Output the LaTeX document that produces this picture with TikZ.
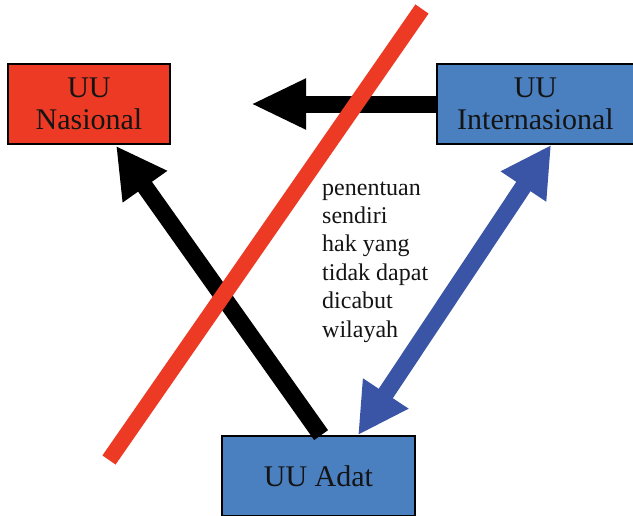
\documentclass[tikz,border=0pt]{standalone}
\usepackage{fontspec}
\newfontfamily\listfont{Liberation Serif}
\usetikzlibrary{arrows.meta,calc}
\definecolor{redc}{RGB}{236,58,37}
\definecolor{boxblue}{RGB}{74,128,192}
\definecolor{arrowblue}{RGB}{58,84,166}
\definecolor{txt}{RGB}{20,20,20}
\tikzset{
  box/.style={draw=black, line width=1.8pt, inner sep=0pt, align=center,
    text=txt, font=\listfont\fontsize{30}{32}\selectfont},
  bigarrow/.style={line width=17pt, draw=black,
    -{Triangle[length=50pt,width=51pt]}},
  hzarrow/.style={line width=17pt, draw=black,
    -{Triangle[length=55pt,width=47pt]}},
  bluearrow/.style={line width=17pt, draw=arrowblue,
    {Triangle[length=50pt,width=51pt]}-{Triangle[length=50pt,width=51pt]}},
  redline/.style={line width=16pt, draw=redc},
  listtext/.style={inner sep=0pt, align=left, anchor=base west, text=txt,
    font=\listfont\fontsize{24}{28.4}\selectfont}
}
\begin{document}
\begin{tikzpicture}[x=1pt,y=-1pt]
\useasboundingbox (0,0) rectangle (633,515);
% boxes
\node[box, fill=redc, minimum width=162pt, minimum height=80pt] (nas) at (89,104) {UU\\Nasional};
\node[box, fill=boxblue, minimum width=197pt, minimum height=80pt] (intl) at (535.5,104) {UU\\Internasional};
\node[box, fill=boxblue, minimum width=193pt, minimum height=80pt] (adat) at (318.5,476) {UU Adat};
% text
\node[listtext] (lst) at (322,337) {penentuan\\sendiri\\hak yang\\tidak dapat\\dicabut\\wilayah};
% free end of horizontal arrow
\coordinate (hz) at (251,104);
% arrows
\draw[hzarrow] (intl.west) -- (hz);
\draw[bigarrow] ([xshift=100pt]adat.north west) -- ([xshift=109pt,yshift=-1pt]nas.south west);
\draw[bluearrow] ([xshift=115pt]intl.south west) -- ([xshift=137pt]adat.north west);
% red strike line
\coordinate (r1) at (422,9);
\coordinate (r2) at (109,460);
\draw[redline] (r1) -- (r2);
\end{tikzpicture}
\end{document}
